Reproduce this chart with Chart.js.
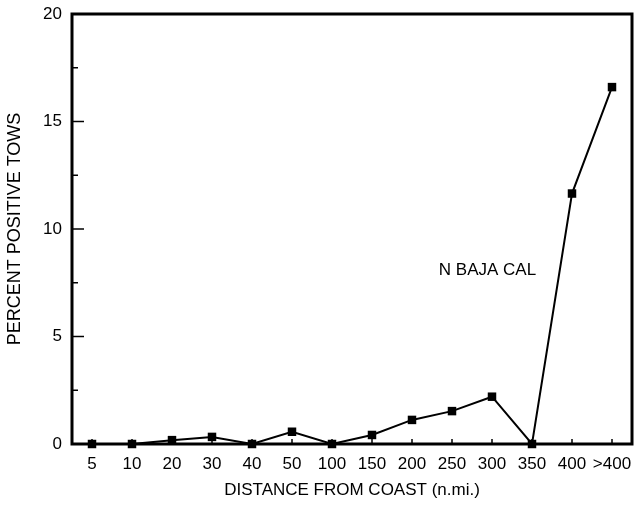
<!DOCTYPE html>
<html>
<head>
<meta charset="utf-8">
<script src="https://cdn.jsdelivr.net/npm/chart.js@4"></script>
<style>
  html, body { margin: 0; padding: 0; background: #fff; }
  #wrap { width: 642px; height: 505px; }
</style>
</head>
<body>
<div id="wrap"><canvas id="c" width="642" height="505"></canvas></div>
<script>
// distance classes (n.mi.) and percent positive tows, N Baja Cal
const distances = ['5', '10', '20', '30', '40', '50', '100', '150', '200', '250', '300', '350', '400', '>400'];
const pctPositive = [0, 0, 0.18, 0.33, 0, 0.57, 0, 0.42, 1.12, 1.53, 2.2, 0, 11.65, 16.6];
const yTicks = [0, 5, 10, 15, 20];
const regionLabel = 'N BAJA CAL';

const FONT = '"Liberation Sans", Arial, Helvetica, sans-serif';

// frame, inward ticks and the region label, all placed through the scales
const framePlugin = {
  id: 'frame',
  afterDraw(chart) {
    const { ctx, chartArea: a, scales } = chart;
    const x = scales.x, y = scales.y;
    ctx.save();
    ctx.strokeStyle = '#000';

    // y ticks: major every 5, minor every 2.5
    ctx.lineWidth = 1.5;
    for (let v = 0; v <= 20; v += 2.5) {
      const py = y.getPixelForValue(v);
      const len = v % 5 === 0 ? 12 : 6;
      ctx.beginPath();
      ctx.moveTo(a.left, py);
      ctx.lineTo(a.left + len, py);
      ctx.stroke();
    }
    // x ticks at each category
    distances.forEach((d, i) => {
      const px = x.getPixelForValue(i);
      ctx.beginPath();
      ctx.moveTo(px, a.bottom);
      ctx.lineTo(px, a.bottom - 5);
      ctx.stroke();
    });

    ctx.lineWidth = 3;
    ctx.strokeRect(a.left, a.top, a.right - a.left, a.bottom - a.top);

    ctx.fillStyle = '#000';
    ctx.font = '17px ' + FONT;
    ctx.textAlign = 'left';
    ctx.textBaseline = 'middle';
    ctx.fillText(regionLabel, x.getPixelForValue(8.67), y.getPixelForValue(8.07));
    ctx.restore();
  }
};

new Chart(document.getElementById('c'), {
  type: 'line',
  data: {
    labels: distances,
    datasets: [{
      data: pctPositive,
      borderColor: '#000',
      backgroundColor: '#000',
      borderWidth: 2,
      pointStyle: 'rect',
      pointRadius: 6,
      pointBorderWidth: 0,
      tension: 0,
      clip: false
    }]
  },
  options: {
    responsive: false,
    animation: false,
    devicePixelRatio: 1,
    layout: { padding: { top: 14, right: 10, left: 0, bottom: 0 } },
    plugins: { legend: { display: false }, tooltip: { enabled: false } },
    scales: {
      x: {
        offset: true,
        grid: { display: false, drawTicks: false },
        border: { display: false },
        ticks: { color: '#000', font: { family: FONT, size: 17 }, padding: 10, maxRotation: 0, autoSkip: false },
        title: { display: true, text: 'DISTANCE FROM COAST (n.mi.)', color: '#000', font: { family: FONT, size: 17 }, padding: { top: 5 } },
        afterFit(s) { s.height = 61; }
      },
      y: {
        min: 0,
        max: 20,
        afterBuildTicks(s) { s.ticks = yTicks.map(v => ({ value: v })); },
        grid: { display: false, drawTicks: false },
        border: { display: false },
        ticks: { color: '#000', font: { family: FONT, size: 17 }, padding: 10 },
        title: { display: true, text: 'PERCENT POSITIVE TOWS', color: '#000', font: { family: FONT, size: 18 }, padding: { bottom: 6 } },
        afterFit(s) { s.width = 72; s.paddingTop = 0; s.paddingBottom = 0; }
      }
    }
  },
  plugins: [framePlugin]
});
</script>
</body>
</html>
